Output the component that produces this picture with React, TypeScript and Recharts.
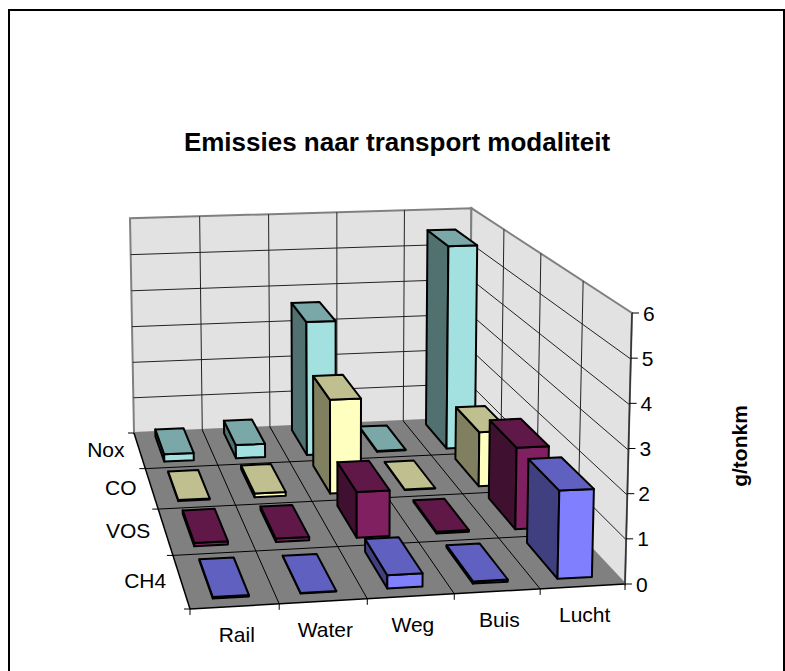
import React from 'react';
import { BarChart, Bar, XAxis, YAxis, Customized } from 'recharts';

const CATEGORIES = ['Rail', 'Water', 'Weg', 'Buis', 'Lucht'];
const SERIES_NAMES = ['Nox', 'CO', 'VOS', 'CH4'];
const NOX = [0.2, 0.36, 3.6, 0.02, 5.5];
const CO = [0.03, 0.1, 2.4, 0.01, 1.4];
const VOS = [0.08, 0.08, 1.1, 0.04, 1.98];
const CH4 = [0.03, 0.01, 0.3, 0.05, 2.0];
const VALUE_TICKS = [0, 1, 2, 3, 4, 5, 6];

const SERIES_VALUES = [NOX, CO, VOS, CH4];
const FACE_COLORS = [
  { front: '#A3E0E0', top: '#7AA8A8', side: '#517070' },
  { front: '#FFFFC0', top: '#BFBF90', side: '#808060' },
  { front: '#802060', top: '#601848', side: '#401030' },
  { front: '#8080FF', top: '#6060C0', side: '#404080' },
];

const data = CATEGORIES.map((name, i) => {
  const row: Record<string, string | number> = { name };
  SERIES_NAMES.forEach((s, j) => { row[s] = SERIES_VALUES[j][i]; });
  return row;
});

const FONT = '"Liberation Sans", Arial, sans-serif';
const PLOT_TOP = 313;
const PLOT_BOTTOM = 584;

// floor corners on screen, the rest of the perspective is derived from them
const BL = [134, 433];
const BR = [469, 418];
const FR = [625, 584];
const FL = [190, 609];
const VANISH = [341, 11600]; // where the vertical edges meet, far below

function floorMatrix() {
  const dx1 = BR[0] - FR[0], dx2 = FL[0] - FR[0], sx = BL[0] - BR[0] + FR[0] - FL[0];
  const dy1 = BR[1] - FR[1], dy2 = FL[1] - FR[1], sy = BL[1] - BR[1] + FR[1] - FL[1];
  const den = dx1 * dy2 - dx2 * dy1;
  const g = (sx * dy2 - dx2 * sy) / den;
  const h = (dx1 * sy - sx * dy1) / den;
  return {
    a: BR[0] - BL[0] + g * BR[0], b: FL[0] - BL[0] + h * FL[0], c: BL[0],
    d: BR[1] - BL[1] + g * BR[1], e: FL[1] - BL[1] + h * FL[1], f: BL[1],
    g, h,
  };
}
const M = floorMatrix();
const W_FR = M.g + M.h + 1;
const Y_FR = M.d + M.e + M.f;
const S = ((PLOT_TOP * W_FR - Y_FR) / (VANISH[1] - PLOT_TOP)) / (PLOT_BOTTOM - PLOT_TOP);

// u = category position, v = series position, h = pixels of the value axis
function project(u: number, v: number, h = 0): [number, number] {
  const p = u / CATEGORIES.length;
  const q = v / SERIES_NAMES.length;
  const w = M.g * p + M.h * q + 1 + S * h;
  const x = M.a * p + M.b * q + M.c + S * h * VANISH[0];
  const y = M.d * p + M.e * q + M.f + S * h * VANISH[1];
  return [x / w, y / w];
}

const pts = (list: [number, number][]) => list.map((p) => `${p[0].toFixed(1)},${p[1].toFixed(1)}`).join(' ');

function Face({ list, fill }: { list: [number, number][]; fill: string }) {
  return <polygon points={pts(list)} fill={fill} stroke="#000" strokeWidth={2} strokeLinejoin="round" />;
}

function Bar3D(props: any) {
  const { index, height, row } = props;
  const colors = FACE_COLORS[row];
  const h = Math.max(height ?? 0, 0);
  const u0 = index + 0.29, u1 = index + 0.7;
  const v0 = row + 0.13, v1 = row + 0.84;
  return (
    <g>
      <Face list={[project(u0, v0), project(u0, v1), project(u0, v1, h), project(u0, v0, h)]} fill={colors.side} />
      <Face list={[project(u0, v1), project(u1, v1), project(u1, v1, h), project(u0, v1, h)]} fill={colors.front} />
      <Face list={[project(u0, v0, h), project(u1, v0, h), project(u1, v1, h), project(u0, v1, h)]} fill={colors.top} />
    </g>
  );
}

function Line3D({ a, b, color = '#222', w = 1 }: { a: [number, number]; b: [number, number]; color?: string; w?: number }) {
  return <line x1={a[0]} y1={a[1]} x2={b[0]} y2={b[1]} stroke={color} strokeWidth={w} />;
}

function Walls() {
  const nc = CATEGORIES.length;
  const ns = SERIES_NAMES.length;
  const H = PLOT_BOTTOM - PLOT_TOP;
  const unit = H / (VALUE_TICKS.length - 1);
  return (
    <g>
      <rect x={9} y={10} width={775} height={680} fill="#fff" stroke="#000" strokeWidth={2} />
      <text x={397} y={151} textAnchor="middle" fontFamily={FONT} fontWeight="bold" fontSize={26} fill="#000">
        Emissies naar transport modaliteit
      </text>
      <text transform="translate(747,446) rotate(-90)" textAnchor="middle" fontFamily={FONT} fontWeight="bold" fontSize={21} fill="#000">
        g/tonkm
      </text>
      <polygon points={pts([project(0, 0), project(nc, 0), project(nc, 0, H), project(0, 0, H)])} fill="#E2E2E2" stroke="#808080" strokeWidth={2} />
      <polygon points={pts([project(nc, 0), project(nc, ns), project(nc, ns, H), project(nc, 0, H)])} fill="#E2E2E2" stroke="#808080" strokeWidth={2} />
      <polygon points={pts([project(0, 0), project(nc, 0), project(nc, ns), project(0, ns)])} fill="#808080" />
      {VALUE_TICKS.slice(1, -1).map((t) => (
        <g key={t}>
          <Line3D a={project(0, 0, t * unit)} b={project(nc, 0, t * unit)} />
          <Line3D a={project(nc, 0, t * unit)} b={project(nc, ns, t * unit)} />
        </g>
      ))}
      {CATEGORIES.slice(1).map((c, i) => (
        <g key={c}>
          <Line3D a={project(i + 1, 0)} b={project(i + 1, 0, H)} />
          <Line3D a={project(i + 1, 0)} b={project(i + 1, ns)} color="#000" />
          <Line3D a={project(i + 1, ns)} b={[project(i + 1, ns)[0], project(i + 1, ns)[1] + 6]} color="#000" />
        </g>
      ))}
      {SERIES_NAMES.slice(1).map((s, i) => (
        <g key={s}>
          <Line3D a={project(nc, i + 1)} b={project(nc, i + 1, H)} />
          <Line3D a={project(0, i + 1)} b={project(nc, i + 1)} color="#000" />
        </g>
      ))}
      {[...SERIES_NAMES, ''].map((_, i) => (
        <Line3D key={i} a={[project(0, i)[0] - 6, project(0, i)[1]]} b={project(0, i)} color="#000" />
      ))}
      <Line3D a={project(0, ns)} b={project(nc, ns)} color="#000" w={1.5} />
      <Line3D a={project(0, 0)} b={project(0, ns)} color="#000" w={1.5} />
      <Line3D a={project(0, ns)} b={[project(0, ns)[0], project(0, ns)[1] + 6]} color="#000" />
      <Line3D a={project(nc, ns)} b={[project(nc, ns)[0], project(nc, ns)[1] + 6]} color="#000" />
      <Line3D a={project(nc, ns)} b={project(nc, ns, H)} color="#333" w={1.5} />
      {SERIES_NAMES.map((s, i) => {
        const [x, y] = project(0, i + 0.5);
        return (
          <text key={s} x={x - 15} y={y - 1} textAnchor="end" dominantBaseline="central" fontFamily={FONT} fontSize={21} fill="#000">
            {s}
          </text>
        );
      })}
    </g>
  );
}

function CategoryTick({ index, payload }: any) {
  const [x, y] = project(index + 0.5, SERIES_NAMES.length);
  return (
    <text x={x + 2} y={y + 28} textAnchor="middle" dominantBaseline="central" fontFamily={FONT} fontSize={21} fill="#000">
      {payload.value}
    </text>
  );
}

function ValueTick({ y, payload }: any) {
  const h = PLOT_BOTTOM - y;
  const [ax] = project(CATEGORIES.length, SERIES_NAMES.length, h);
  return (
    <g>
      <line x1={ax} y1={y} x2={ax + 7} y2={y} stroke="#000" />
      <text x={ax + 11} y={y} dominantBaseline="central" fontFamily={FONT} fontSize={21} fill="#000">
        {payload.value}
      </text>
    </g>
  );
}

export default function App() {
  return (
    <div style={{ position: 'absolute', left: 0, top: 0 }}>
      <BarChart width={785} height={671} data={data} margin={{ top: PLOT_TOP, right: 100, bottom: 47, left: 190 }}>
        <Customized component={Walls} />
        <XAxis dataKey="name" height={40} axisLine={false} tickLine={false} interval={0} tick={CategoryTick} />
        <YAxis orientation="right" width={53} domain={[0, 6]} ticks={VALUE_TICKS} axisLine={false} tickLine={false} tick={ValueTick} />
        {SERIES_NAMES.map((s, row) => (
          <Bar key={s} dataKey={s} isAnimationActive={false} shape={(p: any) => <Bar3D {...p} row={row} />} />
        ))}
      </BarChart>
    </div>
  );
}
